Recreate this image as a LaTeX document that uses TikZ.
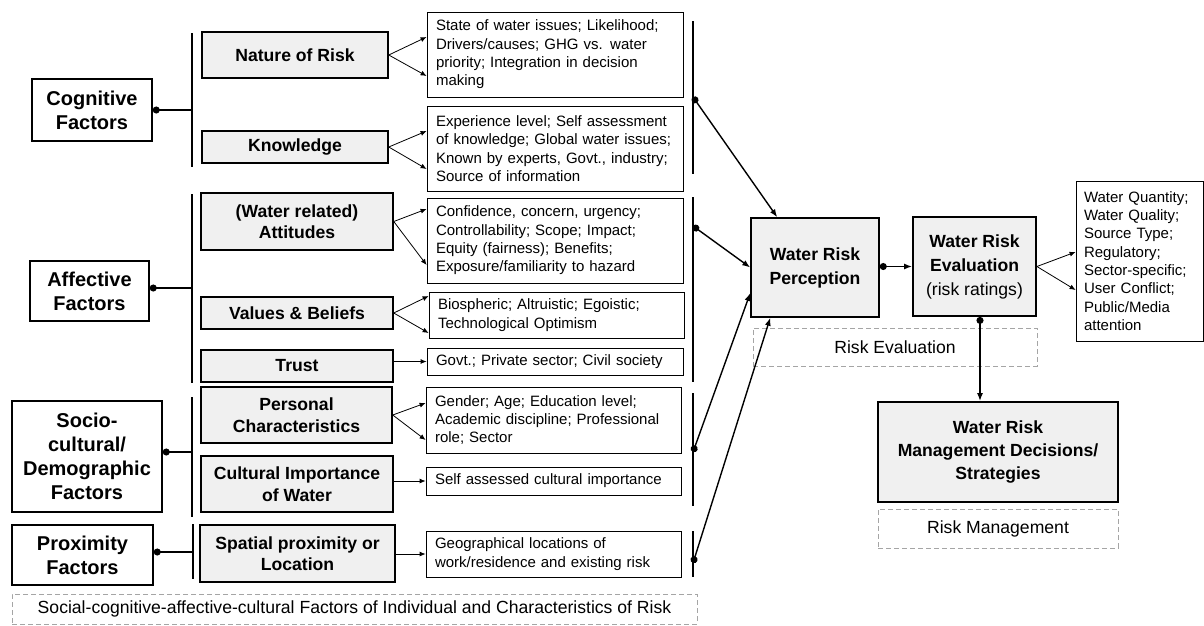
\documentclass[tikz,border=0pt]{standalone}
\usepackage{fontspec}
\setmainfont{Liberation Sans}
\usetikzlibrary{arrows.meta,calc}
\definecolor{dgray}{RGB}{165,165,165}
\definecolor{boxfill}{RGB}{240,240,240}
\begin{document}
\begin{tikzpicture}[x=1pt,y=-1pt,
 factor/.style={draw, line width=1.5pt, font=\fontsize{20}{24}\selectfont\bfseries, align=center, inner sep=0pt},
 mid/.style={draw, line width=1.5pt, fill=boxfill, font=\fontsize{17.6}{21.5}\selectfont\bfseries, align=center, inner sep=0pt},
 core/.style={draw, line width=1.8pt, fill=boxfill, font=\fontsize{17.6}{24}\selectfont\bfseries, align=center, inner sep=0pt},
 detail/.style={draw, line width=0.8pt, font=\fontsize{15}{18.3}\selectfont, align=left, inner xsep=9pt, inner ysep=0pt},
 dashbox/.style={draw=dgray, dash pattern=on 5pt off 3pt, line width=0.9pt, font=\fontsize{17.6}{21}\selectfont, inner sep=0pt},
 bar/.style={line width=2pt},
 conn/.style={line width=1.4pt},
 dotline/.style={line width=1.4pt, {Circle[length=7pt]}-},
 small/.style={line width=0.8pt, -{Latex[length=6pt,width=5pt]}},
 big/.style={line width=1.4pt, {Circle[length=7pt]}-{Latex[length=8pt,width=6pt]}}
]
\useasboundingbox (0,0) rectangle (1204,625);

% left factor boxes
\node[factor, minimum width=120, minimum height=62] (cog) at (92,110) {Cognitive\\Factors};
\node[factor, minimum width=119, minimum height=60] (aff) at (89.5,291) {Affective\\Factors};
\node[factor, minimum width=150, minimum height=111] (soc) at (87,456.5) {Socio-\\cultural/\\Demographic\\Factors};
\node[factor, minimum width=141, minimum height=60] (prox) at (82.5,555) {Proximity\\Factors};

% middle boxes
\node[mid, minimum width=186, minimum height=46] (nat) at (295,55) {Nature of Risk};
\node[mid, minimum width=186, minimum height=32] (know) at (295,147) {Knowledge};
\node[mid, minimum width=192, minimum height=57] (att) at (297,221.5) {(Water related)\\Attitudes};
\node[mid, minimum width=192, minimum height=32] (val) at (297,313) {Values \& Beliefs};
\node[mid, minimum width=192, minimum height=32] (trust) at (297,366) {Trust};
\node[mid, minimum width=191, minimum height=56] (pers) at (296.5,415) {Personal\\Characteristics};
\node[mid, minimum width=192, minimum height=56] (cult) at (297,484) {Cultural Importance\\of Water};
\node[mid, minimum width=195, minimum height=57] (spat) at (297.5,553.5) {Spatial proximity or\\Location};

% detail boxes
\node[detail, text width=238, minimum height=85] (nd) at (555,54.5) {State of water issues; Likelihood;\\Drivers/causes; GHG vs. water\\priority; Integration in decision\\making};
\node[detail, text width=238, minimum height=85] (kd) at (555,148.5) {Experience level; Self assessment\\of knowledge; Global water issues;\\Known by experts, Govt., industry;\\Source of information};
\node[detail, text width=238, minimum height=85] (ad) at (555,240.5) {Confidence, concern, urgency;\\Controllability; Scope; Impact;\\Equity (fairness); Benefits;\\Exposure/familiarity to hazard};
\node[detail, text width=237, minimum height=46] (vd) at (556.5,315) {Biospheric; Altruistic; Egoistic;\\Technological Optimism};
\node[detail, text width=238, minimum height=27] (td) at (555,361.5) {Govt.; Private sector; Civil society};
\node[detail, text width=237, minimum height=66] (pd) at (553.5,420) {Gender; Age; Education level;\\Academic discipline; Professional\\role; Sector};
\node[detail, text width=237, minimum height=28] (cd) at (553.5,481) {Self assessed cultural importance};
\node[detail, text width=237, minimum height=46] (gd) at (553.5,554) {Geographical locations of\\work/residence and existing risk};

% core boxes
\node[core, line width=1.5pt, minimum width=128, minimum height=99] (perc) at (815,267.5) {Water Risk\\Perception};
\node[core, minimum width=123, minimum height=99] (eval) at (974.5,266.5) {Water Risk\\Evaluation\\{\mdseries (risk ratings)}};
\node[detail, inner xsep=8pt, text width=111, minimum height=160] (ed) at (1139.5,261) {Water Quantity;\\Water Quality;\\Source Type;\\Regulatory;\\Sector-specific;\\User Conflict;\\Public/Media\\attention};
\node[core, minimum width=240, minimum height=100, font=\fontsize{17.6}{23.3}\selectfont\bfseries] (mgmt) at (998,452) {Water Risk\\Management Decisions/\\Strategies};

% dashed group boxes
\node[dashbox, minimum width=284, minimum height=38] (revbox) at (895,347) {Risk Evaluation};
\node[dashbox, minimum width=240, minimum height=39] (rmbox) at (998,528.5) {Risk Management};
\node[dashbox, minimum width=685, minimum height=30] (scbox) at (354.5,609) {Social-cognitive-affective-cultural Factors of Individual and Characteristics of Risk};

% left bars
\coordinate (lb1t) at (192,33);  \coordinate (lb1b) at (192,167);
\coordinate (lb2t) at (192,194); \coordinate (lb2b) at (192,383);
\coordinate (lb3t) at (192,397); \coordinate (lb3b) at (192,517);
\coordinate (lb4t) at (193,524); \coordinate (lb4b) at (193,579);
\draw[bar] (lb1t) -- (lb1b);
\draw[bar] (lb2t) -- (lb2b);
\draw[bar] (lb3t) -- (lb3b);
\draw[bar] (lb4t) -- (lb4b);

\coordinate (cogd) at ($(cog.east)+(0,0)$);
\coordinate (affd) at ($(aff.east)+(0,-3)$);
\coordinate (socd) at ($(soc.east)+(0,-4.5)$);
\coordinate (proxd) at ($(prox.east)+(0,-3)$);
\draw[dotline] (cogd) -- (cogd -| lb1t);
\draw[dotline] (affd) -- (affd -| lb2t);
\draw[dotline] (socd) -- (socd -| lb3t);
\draw[dotline] (proxd) -- (proxd -| lb4t);

% small arrows to details
\draw[small] (nat.east) -- ($(nd.west)+(0,-17.5)$);
\draw[small] (nat.east) -- ($(nd.west)+(0,21.5)$);
\draw[small] (know.east) -- ($(kd.west)+(0,-17.5)$);
\draw[small] (know.east) -- ($(kd.west)+(0,20.5)$);
\draw[small] (att.east) -- ($(ad.west)+(0,-31.5)$);
\draw[small] (att.east) -- ($(ad.west)+(0,24.5)$);
\draw[small] (val.east) -- ($(vd.west)+(0,-19)$);
\draw[small] (val.east) -- ($(vd.west)+(0,18)$);
\draw[small] (trust.east |- td.west) -- (td.west);
\draw[small] (pers.east) -- ($(pd.west)+(0,-17)$);
\draw[small] (pers.east) -- ($(pd.west)+(0,20)$);
\draw[small] (cult.east |- cd.west) -- (cd.west);
\draw[small] (spat.east |- gd.west) -- (gd.west);

% right bars
\coordinate (rb1t) at (693,21);  \coordinate (rb1b) at (693,174);
\coordinate (rb2t) at (693,197); \coordinate (rb2b) at (693,382);
\coordinate (rb3t) at (693,393); \coordinate (rb3b) at (693,506);
\coordinate (rb4t) at (693,531); \coordinate (rb4b) at (693,577);
\draw[bar] (rb1t) -- (rb1b);
\draw[bar] (rb2t) -- (rb2b);
\draw[bar] (rb3t) -- (rb3b);
\draw[bar] (rb4t) -- (rb4b);
\coordinate (r1) at (693,97);
\coordinate (r2) at (693,226);
\coordinate (r3) at (693,452);
\coordinate (r4) at (693,563);

\draw[big] (r1) -- ($(perc.north west)+(27,0)$);
\draw[big] (r2) -- (perc.west);
\draw[big] (r3) -- ($(perc.west)+(0,25.5)$);
\draw[big] (r4) -- ($(perc.south west)+(20,0)$);

% core flow
\draw[big] (perc.east |- eval.west) -- (eval.west);
\draw[small] (eval.east) -- ($(ed.west)+(0,-9)$);
\draw[small] (eval.east) -- ($(ed.west)+(0,29)$);
\coordinate (evd) at ($(eval.south)+(5.5,0)$);
\draw[big] (evd) -- (evd |- mgmt.north);
\end{tikzpicture}
\end{document}
